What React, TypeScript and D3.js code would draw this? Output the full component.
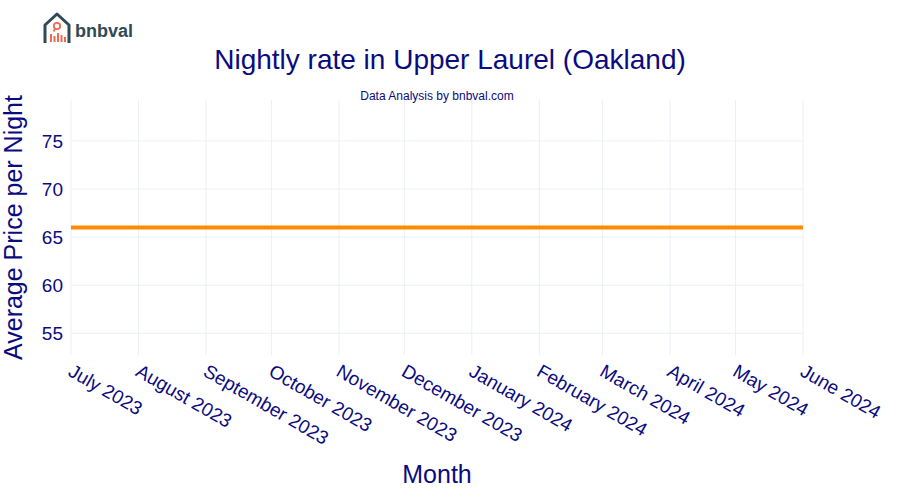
import React from "react";
import * as d3 from "d3";

const months = ["2023-07-01","2023-08-01","2023-09-01","2023-10-01","2023-11-01","2023-12-01","2024-01-01","2024-02-01","2024-03-01","2024-04-01","2024-05-01","2024-06-01"];
const monthLabels = ["July 2023","August 2023","September 2023","October 2023","November 2023","December 2023","January 2024","February 2024","March 2024","April 2024","May 2024","June 2024"];
const prices = [66,66,66,66,66,66,66,66,66,66,66,66];
const yTicks = [55,60,65,70,75];

const W = 900, H = 500;
const M = { left: 71, right: 97, top: 100, bottom: 145 };
const TEXT = "#0b0b80";
const GRID = "#ebeff7";
const FONT = "Liberation Sans, Arial, sans-serif";

export default function App() {
  const parse = d3.timeParse("%Y-%m-%d");
  const dates = months.map((m) => parse(m) as Date);
  const x = d3.scaleTime().domain([dates[0], dates[dates.length - 1]]).range([M.left, W - M.right]);
  const y = d3.scaleLinear().domain([52.75, 79.25]).range([H - M.bottom, M.top]);
  const data = dates.map((d, i) => ({ d, v: prices[i] }));
  const line = d3.line<{ d: Date; v: number }>().x((p) => x(p.d)).y((p) => y(p.v));
  const plotL = M.left, plotR = W - M.right, plotT = M.top, plotB = H - M.bottom;

  return (
    <svg width={W} height={H} style={{ position: "absolute", left: 0, top: 0, background: "#fff" }} fontFamily={FONT}>
      {/* logo */}
      <g>
        <path d="M45 43 L45 25 L57 14 L69 25 L69 43" fill="none" stroke="#2f4a55" strokeWidth={3} strokeLinejoin="round" />
        <circle cx={57} cy={26} r={3.2} fill="none" stroke="#ef6b4f" strokeWidth={1.8} />
        <line x1={55} y1={29} x2={53.5} y2={31.5} stroke="#ef6b4f" strokeWidth={1.8} />
        <rect x={50} y={34} width={2} height={8} fill="#ef6b4f" />
        <rect x={53.5} y={36} width={2} height={6} fill="#ef6b4f" />
        <rect x={57} y={33} width={2} height={9} fill="#ef6b4f" />
        <rect x={60.5} y={35} width={2} height={7} fill="#ef6b4f" />
        <rect x={64} y={37} width={2} height={5} fill="#ef6b4f" />
        <text x={75} y={37} fontSize={18} fontWeight="bold" fill="#2f4a55">bnbval</text>
      </g>

      {/* title */}
      <text x={450} y={69} textAnchor="middle" fontSize={28} fill={TEXT}>Nightly rate in Upper Laurel (Oakland)</text>
      <text x={(plotL + plotR) / 2} y={100} textAnchor="middle" fontSize={12} fill={TEXT}>Data Analysis by bnbval.com</text>

      {/* grid */}
      {dates.map((d, i) => (
        <line key={"vg" + i} x1={x(d)} x2={x(d)} y1={plotT} y2={plotB} stroke={GRID} strokeWidth={1} />
      ))}
      {yTicks.map((t) => (
        <line key={"hg" + t} x1={plotL} x2={plotR} y1={y(t)} y2={y(t)} stroke={GRID} strokeWidth={1} />
      ))}

      {/* y tick labels */}
      {yTicks.map((t) => (
        <text key={"yt" + t} x={plotL - 8} y={y(t)} dy="0.35em" textAnchor="end" fontSize={19} fill={TEXT}>{t}</text>
      ))}

      {/* x tick labels */}
      {dates.map((d, i) => (
        <text key={"xt" + i} transform={`translate(${x(d) - 4},${plotB + 20}) rotate(30)`} fontSize={19} fill={TEXT}>{monthLabels[i]}</text>
      ))}

      {/* line */}
      <path d={line(data) || ""} fill="none" stroke="#ff8c00" strokeWidth={4} />

      {/* axis titles */}
      <text transform={`translate(22,${(plotT + plotB) / 2}) rotate(-90)`} textAnchor="middle" fontSize={25} fill={TEXT}>Average Price per Night</text>
      <text x={(plotL + plotR) / 2} y={483} textAnchor="middle" fontSize={25} fill={TEXT}>Month</text>
    </svg>
  );
}
